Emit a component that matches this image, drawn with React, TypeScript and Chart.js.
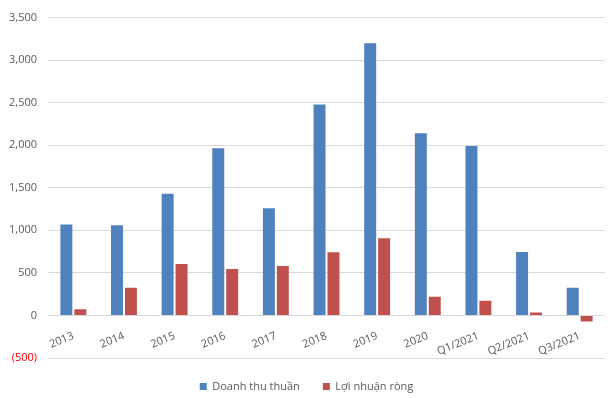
import React, { useEffect, useRef } from "react";
import { Chart, registerables } from "chart.js";

Chart.register(...registerables);

const categories = ["2013", "2014", "2015", "2016", "2017", "2018", "2019", "2020", "Q1/2021", "Q2/2021", "Q3/2021"];
const revenue = [1070, 1060, 1430, 1965, 1260, 2480, 3200, 2140, 1990, 745, 325];
const netProfit = [73, 326, 605, 547, 581, 744, 907, 221, 174, 35, -70];
const seriesNames = ["Doanh thu thuần", "Lợi nhuận ròng"];

const FONT = "'Open Sans', sans-serif";

function fmt(v: number): string {
  const s = Math.abs(v).toLocaleString("en-US");
  return v < 0 ? `(${s})` : s;
}

export default function App() {
  const ref = useRef<HTMLCanvasElement>(null);
  useEffect(() => {
    if (!ref.current) return;
    const chart = new Chart(ref.current, {
      type: "bar",
      data: {
        labels: categories,
        datasets: [
          { label: seriesNames[0], data: revenue, backgroundColor: "#4f81bd", categoryPercentage: 0.55, barPercentage: 0.86 },
          { label: seriesNames[1], data: netProfit, backgroundColor: "#c0504d", categoryPercentage: 0.55, barPercentage: 0.86 },
        ],
      },
      options: {
        animation: false,
        responsive: false,
        layout: { padding: { left: 8, right: 6, top: 13, bottom: -4 } },
        plugins: {
          tooltip: { enabled: false },
          legend: {
            position: "bottom",
            labels: {
              boxWidth: 7,
              boxHeight: 7,
              padding: 23,
              color: "#595959",
              font: { family: FONT, size: 11 },
            },
          },
        },
        scales: {
          x: {
            position: { y: 0 } as any,
            grid: { display: false },
            border: { display: false },
            ticks: {
              minRotation: 22,
              maxRotation: 22,
              padding: 6,
              color: "#595959",
              font: { family: FONT, size: 11 },
            },
          },
          y: {
            min: -500,
            max: 3500,
            border: { display: false },
            grid: { color: "#d9d9d9", drawTicks: false },
            afterFit: (scale: any) => {
              scale.width = 40;
            },
            ticks: {
              stepSize: 500,
              padding: 11,
              font: { family: FONT, size: 11 },
              color: (ctx: any) => (ctx.tick && ctx.tick.value < 0 ? "#ff0000" : "#595959"),
              callback: (v: any) => fmt(Number(v)),
            },
          },
        },
      },
    });
    return () => chart.destroy();
  }, []);
  return (
    <div style={{ position: "fixed", left: 0, top: 0, width: 611, height: 398, background: "#fff" }}>
      <canvas ref={ref} width={611} height={398} style={{ width: 611, height: 398 }} />
    </div>
  );
}
